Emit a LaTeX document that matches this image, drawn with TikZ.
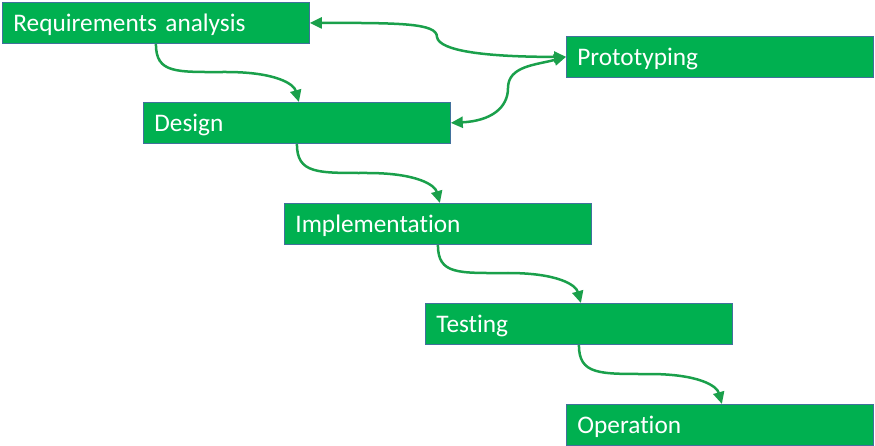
\documentclass[tikz,border=0pt]{standalone}
\usepackage{fontspec}
\setmainfont[Ligatures={NoCommon}]{Carlito}
\usetikzlibrary{arrows.meta}
\definecolor{boxfill}{HTML}{00B050}
\definecolor{boxline}{HTML}{41719C}
\definecolor{arr}{HTML}{1AA04B}
\begin{document}
\begin{tikzpicture}[x=1pt,y=-1pt,
  stage/.style={draw=boxline,line width=0.8pt,fill=boxfill,anchor=north west,
    minimum width=307pt,minimum height=41pt,text width=285pt,inner xsep=11pt,inner ysep=0pt,
    align=left,text=white,font=\fontsize{25.3}{30}\selectfont,text height=16.3pt,text depth=0pt},
  flow/.style={draw=arr,line width=2.5pt,-{Triangle[length=12pt,width=11pt]}},
  both/.style={draw=arr,line width=2.5pt,{Triangle[length=12pt,width=11pt]}-{Triangle[length=12pt,width=11pt]}}]
\useasboundingbox (0,0) rectangle (875,446);
\node[stage] (req) at (2,2) {Requirements analysis};
\node[stage] (proto) at (566,36) {Prototyping};
\node[stage] (des) at (143,102) {Design};
\node[stage] (imp) at (284,203) {Implementation};
\node[stage] (tes) at (425,303) {Testing};
\node[stage] (op) at (566,404) {Operation};
\draw[flow] (req.south) .. controls +(0,30) and +(-50,0) .. (226,72) .. controls +(50,0) and +(-5,-18) .. ([xshift=2pt]des.north);
\draw[flow] (des.south) .. controls +(0,30) and +(-50,0) .. (367,173) .. controls +(50,0) and +(-5,-18) .. ([xshift=2pt]imp.north);
\draw[flow] (imp.south) .. controls +(0,30) and +(-50,0) .. (508,273) .. controls +(50,0) and +(-5,-18) .. ([xshift=2pt]tes.north);
\draw[flow] (tes.south) .. controls +(0,30) and +(-50,0) .. (649,374) .. controls +(50,0) and +(-5,-18) .. ([xshift=2pt]op.north);
\draw[both] (req.east) .. controls +(90,0) and +(0,-14) .. (437,37) .. controls +(2,14) and +(-80,0) .. (proto.west);
\draw[both] (des.east) .. controls +(40,-2) and +(0,20) .. (508,88) .. controls +(0,-22) and +(-30,8) .. (proto.west);
\end{tikzpicture}
\end{document}
